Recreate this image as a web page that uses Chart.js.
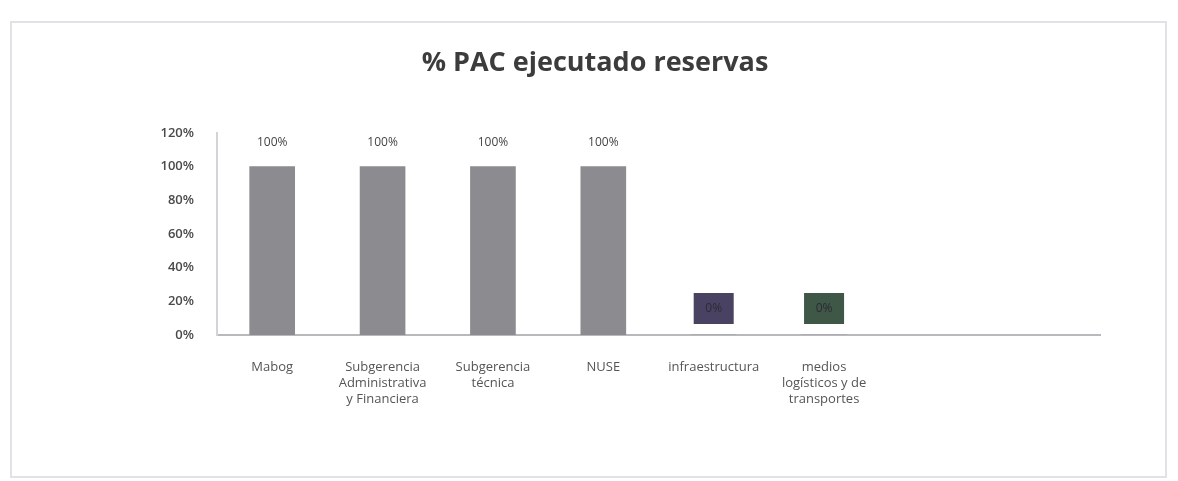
<!DOCTYPE html>
<html>
<head>
<meta charset="utf-8">
<script src="https://cdn.jsdelivr.net/npm/chart.js@4.4.1/dist/chart.umd.min.js"></script>
<style>
  html, body { margin: 0; padding: 0; background: #fff; }
  #wrap { position: relative; width: 1178px; height: 481px; }
  #frame { position: absolute; left: 10px; top: 21px; width: 1157px; height: 457px;
           border: 2px solid #e2e2e6; box-sizing: border-box; }
  canvas { position: absolute; left: 0; top: 0; }
</style>
</head>
<body>
<div id="wrap">
  <div id="frame"></div>
  <canvas id="c" width="1178" height="481"></canvas>
</div>
<script>
// chart data
const chartTitle = "% PAC ejecutado reservas";
const categories = [
  "Mabog",
  ["Subgerencia", "Administrativa", "y Financiera"],
  ["Subgerencia", "técnica"],
  "NUSE",
  "infraestructura",
  ["medios", "logísticos y de", "transportes"],
  "",
  ""
];
const values = [100, 100, 100, 100, 0, 0, null, null];
const labelText = ["100%", "100%", "100%", "100%", "0%", "0%", "", ""];
const yTicks = [0, 20, 40, 60, 80, 100, 120];

// label boxes for the zero bars (filled like in the original)
const labelFill = [null, null, null, null, "#4a4262", "#3e5747", null, null];

const titlePlugin = {
  id: "sheetTitle",
  afterDraw(chart) {
    const ctx = chart.ctx;
    ctx.save();
    ctx.font = "bold 27px 'Open Sans'";
    ctx.fillStyle = "#3c3c3c";
    ctx.textAlign = "center";
    ctx.textBaseline = "middle";
    ctx.fillText(chartTitle, 595, 63);
    ctx.restore();
  }
};

const labelPlugin = {
  id: "barLabels",
  afterDatasetsDraw(chart) {
    const ctx = chart.ctx;
    const meta = chart.getDatasetMeta(0);
    const y = chart.scales.y;
    ctx.save();
    ctx.font = "12px 'Open Sans'";
    ctx.textAlign = "center";
    ctx.textBaseline = "middle";
    meta.data.forEach((bar, i) => {
      if (values[i] == null) return;
      if (labelFill[i]) {
        const base = y.getPixelForValue(values[i]);
        ctx.fillStyle = labelFill[i];
        ctx.fillRect(bar.x - 20, base - 42, 40, 31);
        ctx.fillStyle = "#2e2a36";
        ctx.fillText(labelText[i], bar.x, base - 26);
      } else {
        ctx.fillStyle = "#444";
        ctx.fillText(labelText[i], bar.x, bar.y - 24);
      }
    });
    ctx.restore();
  }
};

new Chart(document.getElementById("c"), {
  type: "bar",
  data: {
    labels: categories,
    datasets: [{
      data: values,
      backgroundColor: "#8b8b90",
      borderWidth: 0,
      barThickness: 45
    }]
  },
  options: {
    responsive: false,
    animation: false,
    layout: { padding: { left: 0, right: 78, top: 133, bottom: 0 } },
    plugins: {
      legend: { display: false },
      tooltip: { enabled: false },
      title: { display: false }
    },
    scales: {
      x: {
        grid: { display: false, drawTicks: false },
        border: { display: true, color: "#b9b9bd", width: 2 },
        ticks: {
          color: "#555",
          font: { family: "Open Sans", size: 13, lineHeight: 1.23 },
          padding: 24,
          maxRotation: 0,
          autoSkip: false
        },
        afterFit(s) { s.height = 146; }
      },
      y: {
        min: 0,
        max: 120,
        afterBuildTicks(s) { s.ticks = yTicks.map(v => ({ value: v })); },
        grid: { display: false, drawTicks: false },
        border: { display: true, color: "#d4d4d8", width: 2 },
        ticks: {
          color: "#4a4a4a",
          font: { family: "Open Sans", size: 13, weight: "600" },
          padding: 23,
          callback: v => v + "%"
        },
        afterFit(s) { s.width = 217; }
      }
    }
  },
  plugins: [labelPlugin, titlePlugin]
});
</script>
</body>
</html>
